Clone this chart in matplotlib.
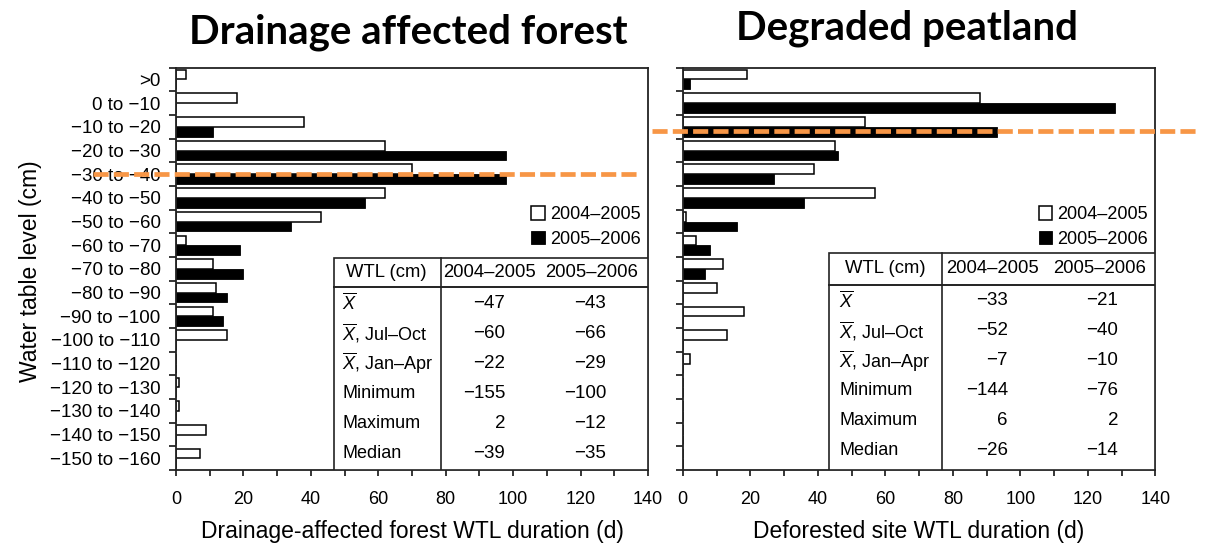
import numpy as np
import matplotlib
matplotlib.use('Agg')
import matplotlib.pyplot as plt
from matplotlib.patches import Rectangle

plt.rcParams['font.family'] = ['Liberation Sans', 'DejaVu Sans']
plt.rcParams['mathtext.fontset'] = 'custom'
plt.rcParams['mathtext.rm'] = 'Liberation Sans'
plt.rcParams['mathtext.it'] = 'Liberation Sans:italic'

# water table level classes (cm)
levels = ['>0', '0 to \u221210'] + ['\u2212%d to \u2212%d' % (a, a + 10) for a in range(10, 160, 10)]

# duration (days) in each class
forest_0405 = [3, 18, 38, 62, 70, 62, 43, 3, 11, 12, 11, 15, 0, 1, 1, 9, 7]
forest_0506 = [0, 0, 11, 98, 98, 56, 34, 19, 20, 15, 14, 0, 0, 0, 0, 0, 0]
peat_0405 = [19, 88, 54, 45, 39, 57, 1, 4, 12, 10, 18, 13, 2, 0, 0, 0, 0]
peat_0506 = [2, 128, 93, 46, 27, 36, 16, 8, 6.5, 0, 0, 0, 0, 0, 0, 0, 0]

# summary statistics tables
xbar = r'$\overline{X}$'
stat_rows = [xbar, xbar + ', Jul\u2013Oct', xbar + ', Jan\u2013Apr',
             'Minimum', 'Maximum', 'Median']
stat_cols = ['WTL (cm)', '2004\u20132005', '2005\u20132006']
forest_stats = [[-47, -43], [-60, -66], [-22, -29], [-155, -100], [2, -12], [-39, -35]]
peat_stats = [[-33, -21], [-52, -40], [-7, -10], [-144, -76], [6, 2], [-26, -14]]

# orange marker lines (category position)
forest_mark = 4.0
peat_mark = 2.18


def fmt(v):
    return ('\u2212%d' % -v) if v < 0 else '%d' % v


def panel(ax, white, black, stats, xlabel, tab_left, tab_vline, tab_top, tab_head,
          col_x, head_x, row_x, mark_y, mark_x, show_labels):
    y = np.arange(len(levels))
    ax.barh(y - 0.2, white, height=0.41, color='white', edgecolor='black',
            linewidth=1.1, label='2004\u20132005')
    ax.barh(y + 0.21, black, height=0.41, color='black', edgecolor='black',
            linewidth=0.6, label='2005\u20132006')
    ax.set_xlim(0, 140)
    ax.set_ylim(16.5, -0.5)
    ax.set_xticks(np.arange(0, 141, 20))
    ax.set_xticks(np.arange(0, 141, 10), minor=True)
    ax.tick_params(axis='x', which='both', direction='out', length=4, width=1.1,
                   labelsize=13, pad=11)
    ax.set_yticks(np.arange(-0.5, 17, 1))
    ax.set_yticklabels([])
    ax.set_yticks(y, minor=True)
    if show_labels:
        ax.set_yticklabels(levels, minor=True)
    else:
        ax.set_yticklabels([], minor=True)
    ax.tick_params(axis='y', which='major', direction='out', length=5, width=1.1)
    ax.tick_params(axis='y', which='minor', length=0, labelsize=13.5, pad=11)
    for s in ax.spines.values():
        s.set_linewidth(1.3)
        s.set_color('#222222')
    ax.set_xlabel(xlabel, fontsize=16.5, labelpad=9)

    # table
    ax.add_patch(Rectangle((tab_left, tab_top), 140 - tab_left, 16.5 - tab_top,
                           facecolor='white', edgecolor='#222222', linewidth=1.2, zorder=3))
    ax.plot([tab_left, 140], [tab_head, tab_head], color='#222222', lw=1.4, zorder=4)
    ax.plot([tab_vline, tab_vline], [tab_top, 16.5], color='#222222', lw=1.2, zorder=4)
    head_y = (tab_top + tab_head) / 2
    for hx, h in zip(head_x, stat_cols):
        ax.text(hx, head_y, h, ha='center', va='center', fontsize=13.3, zorder=5)
    row_y = tab_head + 0.68 + np.arange(len(stat_rows)) * 1.267
    for ry, lab, vals in zip(row_y, stat_rows, stats):
        ax.text(row_x, ry, lab, ha='left', va='center', fontsize=13, zorder=5)
        for cx, v in zip(col_x, vals):
            ax.text(cx, ry, fmt(v), ha='right', va='center', fontsize=13.5, zorder=5)

    ax.legend(loc='upper right', bbox_to_anchor=(0.985, 0.655), frameon=False,
              fontsize=13, handlelength=0.75, handleheight=0.75, handletextpad=0.3,
              labelspacing=0.4, borderpad=0, borderaxespad=0)

    ax.plot(mark_x, [mark_y, mark_y], color='#F79646', lw=3.4, dashes=(3.2, 1.1),
            clip_on=False, zorder=6)


fig = plt.figure(figsize=(12.11, 5.48), dpi=100)
ax1 = fig.add_axes([0.1453, 0.1423, 0.3898, 0.7345])
ax2 = fig.add_axes([0.5638, 0.1423, 0.3903, 0.7345])

panel(ax1, forest_0405, forest_0506, forest_stats,
      'Drainage-affected forest WTL duration (d)',
      46.9, 78.5, 7.54, 8.77, [97.6, 127.6], [62.3, 92.9, 123.4], 49.3,
      forest_mark, [-24.6, 137.5], True)
panel(ax2, peat_0405, peat_0506, peat_stats,
      'Deforested site WTL duration (d)',
      43.4, 76.8, 7.33, 8.68, [96.3, 129.0], [60.0, 91.7, 123.4], 46.3,
      peat_mark, [-9.1, 152.5], False)

fig.text(0.0248, 0.505, 'Water table level (cm)', rotation=90, ha='center', va='center',
         fontsize=16.5)
fig.text(0.337, 0.942, 'Drainage affected forest', ha='center', va='center',
         fontsize=29, fontweight='bold', family='Lato')
fig.text(0.749, 0.948, 'Degraded peatland', ha='center', va='center',
         fontsize=29, fontweight='bold', family='Lato')

fig.savefig('out.png', dpi=100)
